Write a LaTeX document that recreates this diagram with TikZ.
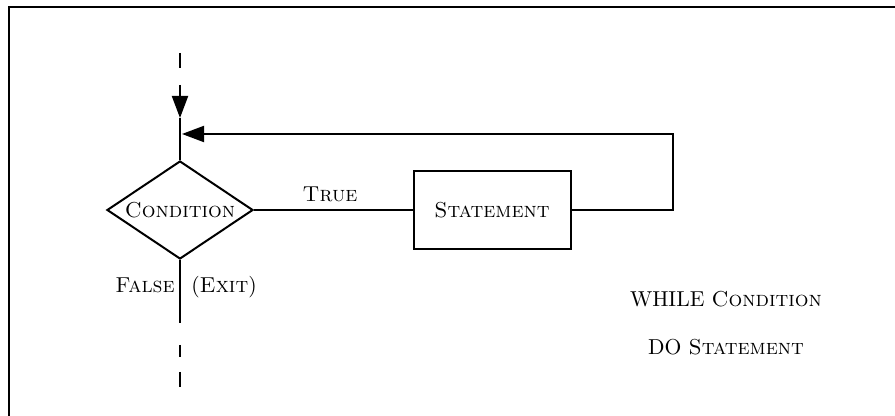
\documentclass[tikz,border=0pt]{standalone}
\usetikzlibrary{shapes.geometric,arrows.meta}

\begin{document}
\begin{tikzpicture}[x=0.5pt, y=-0.5pt, line width=1pt,
    every node/.style={font=\fontsize{10.8}{13}\selectfont},
    decision/.style={diamond, draw, inner sep=1pt, aspect=1.5, minimum width=73pt, minimum height=49pt},
    block/.style={rectangle, draw, minimum width=78.5pt, minimum height=39pt},
    lbl/.style={draw=none, anchor=base, inner sep=0pt},
    arr/.style={-{Triangle[length=11pt, width=8pt]}}]
    \useasboundingbox (0, 0) rectangle (895, 416);

    % frame
    \draw[line width=1.1pt] (9, 416) -- (9, 7) -- (895, 7);

    \node[decision] (cond) at (180, 210) {\textsc{Condition}};
    \node[block] (stmt) at (492, 210) {\textsc{Statement}};

    \coordinate (in) at (180, 85);
    \coordinate (tip) at (180, 118);
    \coordinate (join) at (182, 134);
    \coordinate (back) at (673, 210);
    \coordinate (out) at (180, 323);

    % entry
    \draw (180, 53) -- (180, 68);
    \draw[arr] (in) -- (tip);
    \draw (tip) -- (cond.north);

    % loop
    \draw (cond.east) -- (stmt.west);
    \draw[arr] (stmt.east) -- (back) |- (join);

    % exit
    \draw (cond.south) -- (out);
    \draw (180, 345) -- (180, 357);
    \draw (180, 372) -- (180, 387);

    % labels
    \node[lbl] (true) at (330, 202) {\textsc{True}};
    \node[lbl] (false) at (145, 293) {\textsc{False}};
    \node[lbl] (exit) at (224, 293) {(\textsc{Exit})};
    \node[lbl] (while) at (726, 307) {WHILE \textsc{Condition}};
    \node[lbl] (do) at (726, 355) {DO \textsc{Statement}};
\end{tikzpicture}
\end{document}
